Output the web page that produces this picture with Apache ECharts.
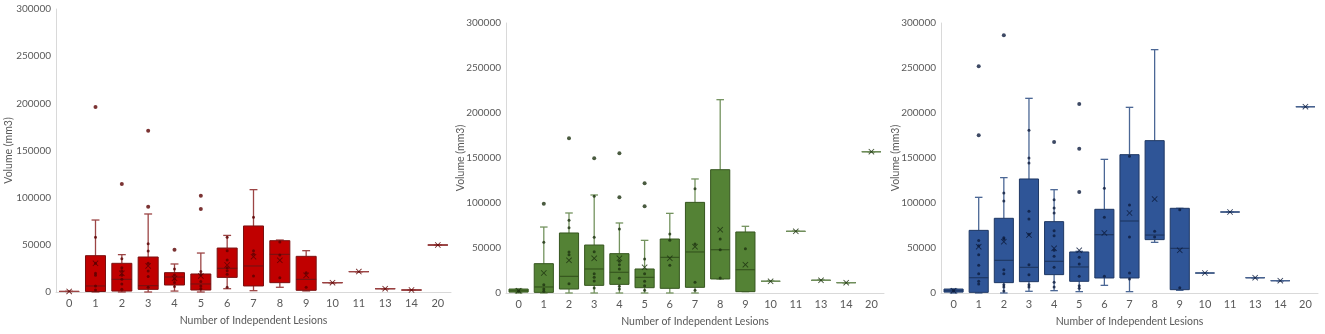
<!DOCTYPE html>
<html>
<head>
<meta charset="utf-8">
<script src="https://cdn.jsdelivr.net/npm/echarts@6/dist/echarts.min.js"></script>
<style>
  html, body { margin: 0; padding: 0; background: #fff; }
  #main { width: 1325px; height: 334px; }
</style>
</head>
<body>
<div id="main"></div>
<script>
// x axis categories (number of independent lesions)
var categories = ['0', '1', '2', '3', '4', '5', '6', '7', '8', '9', '10', '11', '13', '14', '20'];

// red panel: [min, q1, median, q3, max] per category
var redBox = [
  [600, 600, 600, 600, 600],
  [0, 500, 6400, 38500, 76300],
  [0, 1000, 13400, 30400, 39600],
  [0, 2800, 6700, 37100, 82700],
  [1000, 7400, 15900, 20500, 29700],
  [0, 2100, 8500, 19100, 41300],
  [3500, 15500, 25100, 46600, 60000],
  [1400, 6400, 27600, 70000, 108500],
  [5000, 9900, 39900, 54400, 55100],
  [1100, 1800, 13400, 37800, 43800],
  [9900, 9900, 9900, 9900, 9900],
  [21600, 21600, 21600, 21600, 21600],
  [3500, 3500, 3500, 3500, 3500],
  [2100, 2100, 2100, 2100, 2100],
  [49800, 49800, 49800, 49800, 49800]
];
var redMean = [600, 30400, 19800, 27600, 14500, 17000, 28600, 37500, 33600, 17700, 9900, 21600, 3500, 2100, 49800];
var redInner = [
  [], [58000, 30400, 19800, 17700, 6400, 2100], [35300, 25800, 22600, 17700, 13400, 8500, 2800],
  [51200, 43500, 30400, 22300, 16300, 5000], [24400, 18000, 13400, 10200, 5700], [21600, 18400, 11000, 6400, 3500],
  [58000, 43800, 33900, 25800, 22600, 18700, 5000], [79200, 43800, 40300, 17000], [53000, 39200, 15200],
  [20500, 5000], [], [], [], [], []
];
var redOutliers = [[], [196000], [114500], [171000, 90500], [44900], [102100, 88000], [], [], [], [], [], [], [], [], []];

// green panel
var greenBox = [
  [0, 1000, 2500, 4400, 4400],
  [0, 700, 6700, 32600, 73300],
  [0, 4400, 18500, 66700, 88900],
  [0, 8500, 26700, 53300, 108900],
  [0, 9600, 23000, 43700, 77800],
  [0, 5900, 17400, 26700, 58500],
  [0, 5200, 39600, 60000, 88500],
  [0, 6300, 45600, 100700, 126700],
  [15600, 15600, 48100, 137000, 214800],
  [1500, 1500, 25900, 67800, 74100],
  [13000, 13000, 13000, 13000, 13000],
  [68500, 68500, 68500, 68500, 68500],
  [14100, 14100, 14100, 14100, 14100],
  [11500, 11500, 11500, 11500, 11500],
  [157000, 157000, 157000, 157000, 157000]
];
var greenMean = [2600, 22200, 36300, 38500, 38500, 28500, 38500, 51500, 70400, 31500, 13000, 68500, 14100, 11500, 157000];
var greenInner = [
  [2000], [56300, 9300, 4400, 1900], [80700, 72600, 45600, 42600, 10400],
  [107400, 61900, 45900, 21500, 17400, 13300, 5600], [71100, 35200, 31500, 26700, 16300, 7400, 4400],
  [37800, 21500, 13000, 8100, 3000], [65600, 58500, 30700], [115900, 54400, 11900, 3000],
  [60000, 48100, 16700], [49300], [], [], [], [], []
];
var greenOutliers = [[], [99300], [171900], [149600], [155200, 106300], [121900, 96300], [], [], [], [], [], [], [], [], []];

// blue panel
var blueBox = [
  [0, 1000, 2500, 4400, 4400],
  [0, 700, 17000, 69600, 106300],
  [0, 11500, 36300, 83000, 128200],
  [1900, 12600, 28500, 126700, 216300],
  [2600, 20400, 35200, 79300, 114800],
  [1500, 13000, 28900, 45600, 46300],
  [8500, 16700, 64800, 93000, 148500],
  [1500, 16700, 80000, 153700, 206300],
  [56300, 59300, 64400, 169300, 270400],
  [3000, 3700, 49600, 94100, 94100],
  [22200, 22200, 22200, 22200, 22200],
  [90000, 90000, 90000, 90000, 90000],
  [17000, 17000, 17000, 17000, 17000],
  [13700, 13700, 13700, 13700, 13700],
  [207000, 207000, 207000, 207000, 207000]
];
var blueMean = [2600, 51500, 57000, 64400, 49600, 47400, 66700, 88900, 104400, 47400, 22200, 90000, 17000, 13700, 207000];
var blueInner = [
  [2500], [58200, 52600, 42600, 30700, 21500, 13000, 10000],
  [111100, 102200, 61500, 60000, 25900, 21500, 9300, 6700, 2200],
  [180700, 150000, 144400, 90700, 82200, 65200, 31500, 20400, 9300, 6700],
  [103700, 94400, 88900, 69300, 63700, 47400, 40700, 28500, 11900, 6700],
  [39600, 32200, 18500, 8100, 5200], [116300, 84100, 18500], [152000, 97800, 62200, 22200, 15600],
  [68500, 62200], [92600, 5900], [], [], [], [], []
];
var blueOutliers = [[], [251900, 175200], [286300], [], [167800], [210000, 160400, 112200], [], [], [], [], [], [], [], [], []];

var panels = [
  { box: redBox, mean: redMean, inner: redInner, out: redOutliers,
    fill: '#c00000', edge: '#7a1010', whisker: '#9c4545', dot: '#5a0000',
    grid: { left: 56, top: 9, width: 395, height: 283 }, nameGap: 42 },
  { box: greenBox, mean: greenMean, inner: greenInner, out: greenOutliers,
    fill: '#548235', edge: '#36561f', whisker: '#74935f', dot: '#1d3210',
    grid: { left: 506, top: 23, width: 378, height: 270 }, nameGap: 40 },
  { box: blueBox, mean: blueMean, inner: blueInner, out: blueOutliers,
    fill: '#2f5597', edge: '#1f3864', whisker: '#4b6795', dot: '#0d1c3d',
    grid: { left: 941, top: 23, width: 377, height: 270 }, nameGap: 40 }
];

var xMark = 'path://M0,1L1,0L5,4L9,0L10,1L6,5L10,9L9,10L5,6L1,10L0,9L4,5Z';
var font = 'Lato, "Open Sans", sans-serif';

function boxRenderer(p) {
  return function (params, api) {
    var i = api.value(0);
    var band = api.size([1, 0])[0];
    var hw = band * 0.38, cw = band * 0.15;
    var pMin = api.coord([i, api.value(1)]);
    var pQ1 = api.coord([i, api.value(2)]);
    var pMed = api.coord([i, api.value(3)]);
    var pQ3 = api.coord([i, api.value(4)]);
    var pMax = api.coord([i, api.value(5)]);
    var x = pMed[0];
    var wStyle = { stroke: p.whisker, lineWidth: 1.3 };
    var children = [
      { type: 'line', shape: { x1: x, y1: pMax[1], x2: x, y2: pQ3[1] }, style: wStyle },
      { type: 'line', shape: { x1: x, y1: pQ1[1], x2: x, y2: pMin[1] }, style: wStyle },
      { type: 'line', shape: { x1: x - cw, y1: pMax[1], x2: x + cw, y2: pMax[1] }, style: wStyle },
      { type: 'line', shape: { x1: x - cw, y1: pMin[1], x2: x + cw, y2: pMin[1] }, style: wStyle },
      { type: 'rect', shape: { x: x - hw, y: pQ3[1], width: hw * 2, height: Math.max(pQ1[1] - pQ3[1], 0) },
        style: { fill: p.fill, stroke: p.edge, lineWidth: 1 } },
      { type: 'line', shape: { x1: x - hw, y1: pMed[1], x2: x + hw, y2: pMed[1] },
        style: { stroke: pQ1[1] - pQ3[1] < 1 ? p.whisker : p.edge, lineWidth: 1.2 } }
    ];
    return { type: 'group', children: children };
  };
}

var option = { animation: false, grid: [], xAxis: [], yAxis: [], series: [] };

panels.forEach(function (p, k) {
  option.grid.push(p.grid);
  option.xAxis.push({
    type: 'category', gridIndex: k, data: categories,
    name: 'Number of Independent Lesions', nameLocation: 'middle', nameGap: 23,
    nameMoveOverlap: false,
    nameTextStyle: { color: '#595959', fontSize: 10.5, fontFamily: font },
    axisLine: { lineStyle: { color: '#d9d9d9' } }, axisTick: { show: false },
    axisLabel: { color: '#595959', fontSize: 11, fontFamily: font, margin: 6 }
  });
  option.yAxis.push({
    type: 'value', gridIndex: k, min: 0, max: 300000, interval: 50000,
    name: 'Volume (mm3)', nameLocation: 'middle', nameGap: p.nameGap,
    nameMoveOverlap: false,
    nameTextStyle: { color: '#595959', fontSize: 10.5, fontFamily: font },
    axisLine: { show: true, lineStyle: { color: '#d9d9d9' } }, axisTick: { show: false },
    splitLine: { show: false },
    axisLabel: { color: '#595959', fontSize: 10, fontFamily: font, margin: 5,
      formatter: function (v) { return String(v); } }
  });
  option.series.push({
    type: 'custom', xAxisIndex: k, yAxisIndex: k,
    renderItem: boxRenderer(p),
    encode: { x: 0, y: [1, 2, 3, 4, 5] },
    data: p.box.map(function (b, i) { return [i].concat(b); })
  });
  var inner = [], out = [];
  p.inner.forEach(function (arr, i) { arr.forEach(function (v) { inner.push([i, v]); }); });
  p.out.forEach(function (arr, i) { arr.forEach(function (v) { out.push([i, v]); }); });
  option.series.push({
    type: 'scatter', xAxisIndex: k, yAxisIndex: k, symbol: 'circle', symbolSize: 3,
    itemStyle: { color: p.dot, opacity: 0.8 }, data: inner
  });
  option.series.push({
    type: 'scatter', xAxisIndex: k, yAxisIndex: k, symbol: 'circle', symbolSize: 4,
    itemStyle: { color: p.dot }, data: out
  });
  option.series.push({
    type: 'scatter', xAxisIndex: k, yAxisIndex: k, symbol: xMark, symbolSize: 6,
    itemStyle: { color: p.dot, opacity: 0.85 },
    data: p.mean.map(function (v, i) { return [i, v]; })
  });
});

var myChart = echarts.init(document.getElementById('main'));
myChart.setOption(option);
</script>
</body>
</html>
